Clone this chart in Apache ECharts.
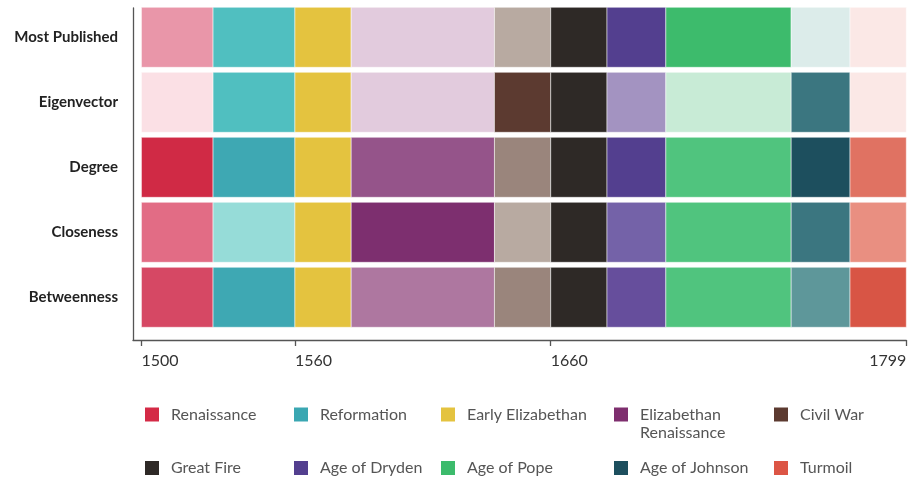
<!DOCTYPE html>
<html><head><meta charset="utf-8">
<script src="https://cdn.jsdelivr.net/npm/echarts@6/dist/echarts.min.js"></script>
<style>html,body{margin:0;padding:0;background:#fff}#c{width:910px;height:482px}</style>
</head><body><div id="c"></div>
<script>
// ---- data ----
const measures = ['Betweenness', 'Closeness', 'Degree', 'Eigenvector', 'Most Published'];
const periods = ['Renaissance', 'Reformation', 'Early Elizabethan', 'Elizabethan Renaissance', 'Civil War',
                 'Great Fire', 'Age of Dryden', 'Age of Pope', 'Age of Johnson', 'Turmoil'];
const periodStart = [1500, 1528, 1560, 1582, 1638, 1660, 1682, 1705, 1754, 1777];
const periodEnd   = [1528, 1560, 1582, 1638, 1660, 1682, 1705, 1754, 1777, 1799];
const tickYears = [1500, 1560, 1660, 1799];

// ---- styles ----
const baseColors = ['#d42a46', '#3aa7b2', '#e4c33f', '#7e2e6e', '#5c3a30',
                    '#2e2926', '#533f8f', '#3cbb6c', '#1d4f5e', '#dc5545'];
const cellColors = {
  'Most Published': ['#e996a9', '#50bfc0', '#e4c33f', '#e2cbdd', '#b8aaa1', '#2e2926', '#533f8f', '#3dbb6c', '#dcecea', '#fbe8e6'],
  'Eigenvector':    ['#fbe0e5', '#50bfc0', '#e4c33f', '#e2cbdd', '#5c3a30', '#2e2926', '#a393c1', '#c8ebd6', '#3b7680', '#fbe8e6'],
  'Degree':         ['#d02a45', '#3ea8b3', '#e4c33f', '#95548a', '#9a857c', '#2e2926', '#533f8f', '#50c47e', '#1d4f5e', '#e07262'],
  'Closeness':      ['#e26c85', '#96dcd8', '#e4c33f', '#7d2f6f', '#b8aaa1', '#2e2926', '#7462a8', '#50c47e', '#3b7680', '#e98f81'],
  'Betweenness':    ['#d64864', '#3ea8b3', '#e4c33f', '#ae77a0', '#9a857c', '#2e2926', '#664e9c', '#50c47e', '#5e979a', '#d85545']
};

const legendLeft = [145, 294, 441, 614, 774];
const legendCenterY = [414.5, 468];
const axisColor = '#555';

const chart = echarts.init(document.getElementById('c'), null, {renderer: 'canvas'});

const option = {
  animation: false,
  backgroundColor: '#fff',
  grid: {left: 133, right: 3.7, top: 8, bottom: 142, containLabel: false},
  xAxis: {
    type: 'value', min: 1496.7, max: 1799,
    splitLine: {show: false},
    axisLine: {show: true, onZero: false, lineStyle: {color: axisColor, width: 1.3}},
    axisTick: {show: true, customValues: tickYears, length: 6, lineStyle: {color: axisColor, width: 1.3}},
    axisLabel: {
      customValues: tickYears, align: 'left', alignMaxLabel: 'right', margin: 13,
      fontFamily: 'Lato', fontSize: 16, color: '#333',
      formatter: v => String(Math.round(v))
    }
  },
  yAxis: {
    type: 'value', min: -0.657, max: 4.451,
    splitLine: {show: false},
    axisLine: {show: true, onZero: false, lineStyle: {color: axisColor, width: 1.3}},
    axisTick: {show: false},
    axisLabel: {
      customValues: [0, 1, 2, 3, 4], margin: 15,
      fontFamily: 'Lato', fontSize: 15, fontWeight: 'bold', color: '#222',
      formatter: v => measures[Math.round(v)] || ''
    }
  },
  legend: periods.map((p, i) => {
    const col = i % 5, row = Math.floor(i / 5);
    const multi = p === 'Elizabethan Renaissance';
    return {
      data: [{name: p, icon: 'rect'}],
      left: legendLeft[col],
      top: legendCenterY[row] - (multi ? 27 : 9),
      orient: 'horizontal', padding: 0, itemWidth: 14, itemHeight: 14,
      selectedMode: false,
      formatter: multi ? '\nElizabethan\nRenaissance' : '{name}',
      textStyle: {fontFamily: 'Lato', fontSize: 16, color: '#555', lineHeight: 18, padding: [0, 0, 0, 7]}
    };
  }),
  series: periods.map((p, pi) => ({
    type: 'custom',
    name: p,
    itemStyle: {color: baseColors[pi]},
    encode: {x: [0, 1], y: 2},
    data: measures.map((m, mi) => [periodStart[pi], periodEnd[pi], mi]),
    renderItem: (params, api) => {
      const s = api.value(0), e = api.value(1), r = api.value(2);
      const p1 = api.coord([s, r + 0.4615]);
      const p2 = api.coord([e, r - 0.4615]);
      return {
        type: 'rect',
        shape: {x: p1[0], y: p1[1], width: p2[0] - p1[0], height: p2[1] - p1[1]},
        style: {fill: cellColors[measures[r]][pi], stroke: 'rgba(255,255,255,0.5)', lineWidth: 1}
      };
    }
  }))
};
chart.setOption(option);
</script>
</body></html>
